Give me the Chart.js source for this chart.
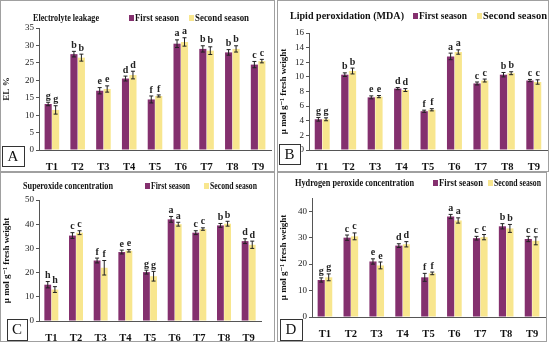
<!DOCTYPE html>
<html>
<head>
<meta charset="utf-8">
<script src="https://cdn.jsdelivr.net/npm/chart.js@4/dist/chart.umd.min.js"></script>
<style>
  body { margin: 0; background: #fff; }
  .panel { position: absolute; border: 1px solid #a0a0a0; box-sizing: border-box; background: #fff; }
  .panel canvas { position: absolute; left: 0; top: 0; }
</style>
</head>
<body>
<div class="panel" style="left:0px;top:0px;width:275px;height:172px"><canvas id="chartA" width="273" height="170"></canvas></div>
<div class="panel" style="left:277px;top:0px;width:272px;height:172px"><canvas id="chartB" width="270" height="170"></canvas></div>
<div class="panel" style="left:0px;top:172px;width:275px;height:170px"><canvas id="chartC" width="273" height="168"></canvas></div>
<div class="panel" style="left:277px;top:172px;width:270px;height:170px"><canvas id="chartD" width="268" height="168"></canvas></div>
<script>
  const treatments = ['T1', 'T2', 'T3', 'T4', 'T5', 'T6', 'T7', 'T8', 'T9'];
  const seasons = ['First season', 'Second season'];

  // A: electrolyte leakage (EL %)
  const elFirst = [13.2, 27.5, 17.0, 20.5, 14.5, 30.5, 29.0, 28.0, 24.5];
  const elSecond = [11.5, 26.5, 17.5, 21.5, 15.5, 31.0, 28.5, 29.0, 25.5];
  const elErrFirst = [0.5, 0.8, 0.9, 0.7, 1.0, 1.1, 0.9, 0.8, 0.9];
  const elErrSecond = [1.2, 1.0, 0.9, 1.1, 0.3, 1.2, 1.1, 0.9, 0.5];
  const elLetters = ['g', 'b', 'e', 'd', 'f', 'a', 'b', 'b', 'c'];

  // B: lipid peroxidation (MDA)
  const mdaFirst = [4.2, 10.3, 7.2, 8.4, 5.3, 12.8, 9.1, 10.3, 9.5];
  const mdaSecond = [4.2, 10.8, 7.3, 8.2, 5.5, 13.4, 9.5, 10.5, 9.3];
  const mdaErrFirst = [0.25, 0.25, 0.2, 0.15, 0.15, 0.45, 0.2, 0.3, 0.15];
  const mdaErrSecond = [0.2, 0.4, 0.15, 0.2, 0.15, 0.3, 0.2, 0.2, 0.3];
  const mdaLetters = ['g', 'b', 'e', 'd', 'f', 'a', 'c', 'b', 'c'];

  // C: superoxide concentration
  const supFirst = [15.0, 35.3, 25.0, 28.5, 20.2, 42.0, 36.5, 39.5, 33.0];
  const supSecond = [13.0, 36.5, 22.0, 29.0, 18.5, 40.0, 38.0, 40.2, 31.5];
  const supErrFirst = [1.3, 1.2, 1.0, 0.8, 0.8, 1.2, 0.8, 0.8, 1.0];
  const supErrSecond = [1.2, 0.8, 3.0, 0.5, 2.0, 0.8, 0.5, 1.0, 1.5];
  const supLetters = ['h', 'c', 'f', 'e', 'g', 'a', 'c', 'b', 'd'];

  // D: hydrogen peroxide concentration
  const hpFirst = [14.0, 30.0, 21.0, 27.0, 15.0, 38.0, 29.8, 34.3, 29.5];
  const hpSecond = [15.0, 30.5, 19.5, 27.5, 16.5, 36.5, 30.2, 33.5, 28.8];
  const hpErrFirst = [0.8, 1.0, 1.0, 0.7, 1.5, 0.8, 0.7, 1.0, 1.0];
  const hpErrSecond = [1.3, 1.3, 1.3, 1.0, 0.5, 1.0, 1.0, 1.5, 1.5];
  const hpLetters = ['g', 'c', 'e', 'd', 'f', 'a', 'c', 'b', 'c'];

  const colFirst = '#84306E';
  const colSecond = '#F8E68E';
  const serif = '"Liberation Serif", "DejaVu Serif", serif';

  // text squeezed or stretched to a given width, like the scaled figure
  function fitText(ctx, text, x, y, w) {
    const m = ctx.measureText(text).width;
    ctx.save();
    ctx.translate(x, y);
    ctx.scale(w / m, 1);
    ctx.fillText(text, 0, 0);
    ctx.restore();
  }

  // error bars, letters, title, legend and panel letter
  const decoPlugin = {
    id: 'deco',
    afterDatasetsDraw(chart, args, o) {
      const ctx = chart.ctx;
      const y = chart.scales.y;
      ctx.save();
      chart.data.datasets.forEach((ds, di) => {
        chart.getDatasetMeta(di).data.forEach((bar, i) => {
          const v = ds.data[i], e = ds.errors[i];
          const yt = y.getPixelForValue(v + e), yb = y.getPixelForValue(v - e);
          ctx.strokeStyle = '#222';
          ctx.lineWidth = 1;
          ctx.beginPath();
          ctx.moveTo(bar.x, yt); ctx.lineTo(bar.x, yb);
          ctx.moveTo(bar.x - 2, yt); ctx.lineTo(bar.x + 2, yt);
          ctx.moveTo(bar.x - 2, yb); ctx.lineTo(bar.x + 2, yb);
          ctx.stroke();
          ctx.fillStyle = '#222';
          ctx.font = 'bold 10px ' + serif;
          ctx.textAlign = 'center';
          ctx.textBaseline = 'bottom';
          ctx.fillText(o.letters[i], bar.x, yt - 1);
        });
      });
      ctx.restore();
    },
    afterDraw(chart, args, o) {
      const ctx = chart.ctx;
      ctx.save();
      ctx.fillStyle = '#111';
      ctx.textBaseline = 'middle';
      ctx.textAlign = 'left';
      ctx.font = 'bold 10.5px ' + serif;
      fitText(ctx, o.title, o.titleX, o.titleY, o.titleW);
      [colFirst, colSecond].forEach((c, k) => {
        const lx = o.legendX[k];
        ctx.fillStyle = c;
        ctx.fillRect(lx, o.titleY - 3, 5, 6);
        ctx.fillStyle = '#111';
        fitText(ctx, seasons[k], lx + 6, o.titleY, o.legendW[k]);
      });
      // panel letter box
      const b = o.box;
      ctx.fillStyle = '#fff';
      ctx.fillRect(b[0], b[1], b[2], b[3]);
      ctx.strokeStyle = '#333';
      ctx.lineWidth = 1;
      ctx.strokeRect(b[0] + 0.5, b[1] + 0.5, b[2], b[3]);
      ctx.fillStyle = '#111';
      ctx.font = '15px ' + serif;
      ctx.textAlign = 'center';
      ctx.fillText(o.letter, b[0] + b[2] / 2, b[1] + b[3] / 2 + 1);
      ctx.restore();
    }
  };

  function makeChart(id, first, second, errF, errS, letters, yMax, yStep, yTitle, area, deco) {
    const canvas = document.getElementById(id);
    const W = canvas.width, H = canvas.height;
    const xH = 20;
    new Chart(canvas, {
      type: 'bar',
      data: {
        labels: treatments,
        datasets: [
          { label: seasons[0], data: first, errors: errF, backgroundColor: colFirst },
          { label: seasons[1], data: second, errors: errS, backgroundColor: colSecond }
        ]
      },
      options: {
        responsive: false,
        devicePixelRatio: 1,
        animation: false,
        categoryPercentage: 0.58,
        barPercentage: 0.95,
        layout: { padding: { left: 0, top: area.top, right: W - area.right, bottom: H - area.bottom - xH } },
        plugins: {
          legend: { display: false },
          title: { display: false },
          tooltip: { enabled: false },
          deco: Object.assign({ letters: letters }, deco)
        },
        scales: {
          x: {
            afterFit(s) { s.height = xH; },
            grid: { display: false },
            border: { color: '#555' },
            ticks: { color: '#111', font: { family: serif, size: 10.5, weight: 'bold' }, padding: 3 }
          },
          y: {
            min: 0, max: yMax,
            afterFit(s) { s.width = area.left; },
            grid: { drawOnChartArea: false, tickLength: 3, color: '#555' },
            border: { color: '#555' },
            ticks: { stepSize: yStep, color: '#222', font: { family: serif, size: 9 }, padding: 2 },
            title: { display: true, text: yTitle, color: '#111', font: { family: serif, size: 9, weight: 'bold' }, padding: 0 }
          }
        }
      },
      plugins: [decoPlugin]
    });
  }

  const unit = 'µ mol g⁻¹ fresh weight';

  makeChart('chartA', elFirst, elSecond, elErrFirst, elErrSecond, elLetters, 35, 5, 'EL %',
    { left: 38, right: 270, top: 27, bottom: 149 },
    { title: 'Electrolyte leakage', titleX: 32, titleY: 17, titleW: 66, legendX: [128, 188], legendW: [44, 54], letter: 'A', box: [1, 145, 22, 20] });

  makeChart('chartB', mdaFirst, mdaSecond, mdaErrFirst, mdaErrSecond, mdaLetters, 16, 2, unit,
    { left: 31, right: 269, top: 32, bottom: 149 },
    { title: 'Lipid peroxidation (MDA)', titleX: 12, titleY: 15, titleW: 114, legendX: [135, 199], legendW: [48, 64], letter: 'B', box: [1, 143, 21, 20] });

  makeChart('chartC', supFirst, supSecond, supErrFirst, supErrSecond, supLetters, 50, 5, unit,
    { left: 38, right: 260, top: 27, bottom: 148 },
    { title: 'Superoxide concentration', titleX: 22, titleY: 13, titleW: 90, legendX: [144, 203], legendW: [39, 47], letter: 'C', box: [6, 146, 20, 21] });

  makeChart('chartD', hpFirst, hpSecond, hpErrFirst, hpErrSecond, hpLetters, 45, 5, unit,
    { left: 34, right: 267, top: 25, bottom: 144 },
    { title: 'Hydrogen peroxide concentration', titleX: 17, titleY: 10, titleW: 119, legendX: [155, 210], legendW: [44, 47], letter: 'D', box: [2, 146, 22, 21] });
</script>
</body>
</html>
